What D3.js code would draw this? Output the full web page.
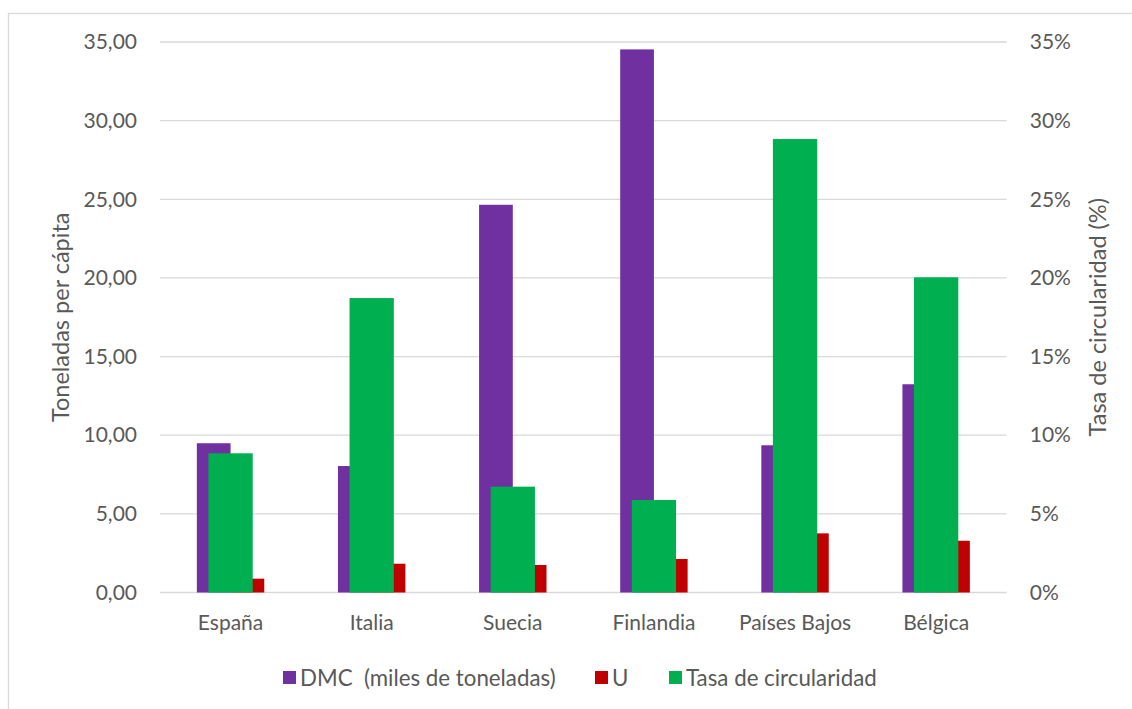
<!DOCTYPE html>
<html>
<head>
<meta charset="utf-8">
<script src="https://cdn.jsdelivr.net/npm/d3@7"></script>
<style>
  html, body { margin: 0; padding: 0; background: #fff; }
  svg text { font-family: Lato, "Noto Sans", sans-serif; fill: #595959; }
</style>
</head>
<body>
<svg id="chart" width="1132" height="709"></svg>
<script>
const categories = ["España", "Italia", "Suecia", "Finlandia", "Países Bajos", "Bélgica"];
const dmc = [9.49, 8.04, 24.65, 34.53, 9.36, 13.24];
const u = [0.88, 1.83, 1.75, 2.13, 3.76, 3.29];
const tasa = [8.85, 18.72, 6.73, 5.88, 28.83, 20.04];
const leftTicks = [0, 5, 10, 15, 20, 25, 30, 35];
const rightTicks = [0, 5, 10, 15, 20, 25, 30, 35];
const seriesNames = ["DMC  (miles de toneladas)", "U", "Tasa de circularidad"];
const colors = ["#7030A0", "#C00000", "#00B050"];

const svg = d3.select("#chart");
const plot = {left: 160, right: 1006.7, top: 42, bottom: 592.5};

// outer border
svg.append("rect").attr("x", 8.5).attr("y", 13.5).attr("width", 1140).attr("height", 720)
  .attr("fill", "none").attr("stroke", "#D9D9D9").attr("stroke-width", 1.3);

const x = d3.scaleBand().domain(categories).range([plot.left, plot.right]).paddingInner(0).paddingOuter(0);
const bw = x.bandwidth();
const sub = d3.scaleBand().domain(["DMC", "U"]).range([0, bw]).paddingInner(0).paddingOuter(1.093);
const yL = d3.scaleLinear().domain([0, 35]).range([plot.bottom, plot.top]);
const yR = d3.scaleLinear().domain([0, 35]).range([plot.bottom, plot.top]);
const greenW = 44.3;

// gridlines
svg.append("g").selectAll("line").data(leftTicks).join("line")
  .attr("x1", plot.left).attr("x2", plot.right)
  .attr("y1", d => yL(d)).attr("y2", d => yL(d))
  .attr("stroke", "#D9D9D9").attr("stroke-width", 1.3);

const fs = 21;
// left axis labels
const fmtL = d => d3.format(".2f")(d).replace(".", ",");
const axL = svg.append("g").attr("transform", `translate(${plot.left},0)`)
  .call(d3.axisLeft(yL).tickValues(leftTicks).tickFormat(fmtL).tickSize(0).tickPadding(23));
axL.select(".domain").remove();
axL.selectAll("text").attr("font-size", fs).style("fill", "#595959").attr("font-family", "Lato");

const axR = svg.append("g").attr("transform", `translate(${plot.right},0)`)
  .call(d3.axisRight(yR).tickValues(rightTicks).tickFormat(d => d + "%").tickSize(0).tickPadding(23));
axR.select(".domain").remove();
axR.selectAll("text").attr("font-size", fs).style("fill", "#595959").attr("font-family", "Lato");

const axB = svg.append("g").attr("transform", `translate(0,${plot.bottom})`)
  .call(d3.axisBottom(x).tickSize(0).tickPadding(23));
axB.select(".domain").remove();
axB.selectAll("text").attr("font-size", fs).style("fill", "#595959").attr("font-family", "Lato");

// bars
const g = svg.append("g");
g.selectAll(".dmc").data(categories).join("rect")
  .attr("x", (c) => x(c) + sub("DMC")).attr("width", sub.bandwidth())
  .attr("y", (c, i) => yL(dmc[i])).attr("height", (c, i) => yL(0) - yL(dmc[i]))
  .attr("fill", colors[0]);
g.selectAll(".u").data(categories).join("rect")
  .attr("x", (c) => x(c) + sub("U")).attr("width", sub.bandwidth())
  .attr("y", (c, i) => yL(u[i])).attr("height", (c, i) => yL(0) - yL(u[i]))
  .attr("fill", colors[1]);
g.selectAll(".tasa").data(categories).join("rect")
  .attr("x", (c) => x(c) + (bw - greenW) / 2).attr("width", greenW)
  .attr("y", (c, i) => yR(tasa[i])).attr("height", (c, i) => yR(0) - yR(tasa[i]))
  .attr("fill", colors[2]);

// axis titles
const tfs = 23.5;
svg.append("text").attr("transform", `translate(69,${(plot.top + plot.bottom) / 2}) rotate(-90)`)
  .attr("text-anchor", "middle").attr("font-size", tfs).text("Toneladas per cápita");
svg.append("text").attr("transform", `translate(1106,${(plot.top + plot.bottom) / 2}) rotate(-90)`)
  .attr("text-anchor", "middle").attr("font-size", tfs).text("Tasa de circularidad (%)");

// legend
const legX = [283, 595, 669];
const leg = svg.append("g");
seriesNames.forEach((name, i) => {
  leg.append("rect").attr("x", legX[i]).attr("y", 671).attr("width", 13).attr("height", 13).attr("fill", colors[i]);
  leg.append("text").attr("x", legX[i] + 17).attr("y", 678).attr("dy", "0.35em")
    .attr("font-size", 22.3).attr("xml:space", "preserve").text(name);
});
</script>
</body>
</html>
